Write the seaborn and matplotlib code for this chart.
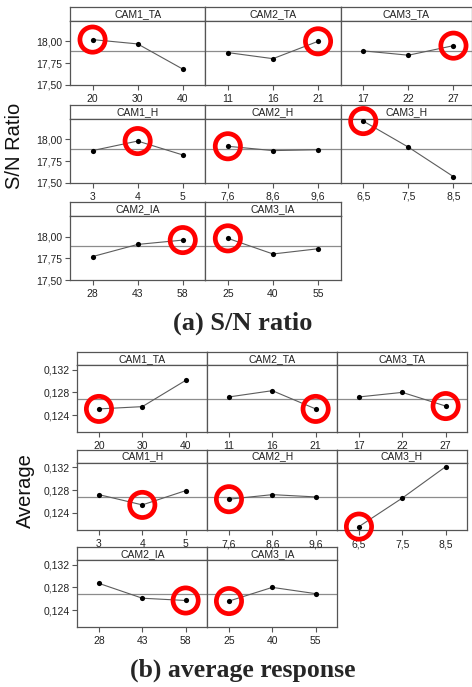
import numpy as np
import pandas as pd
import seaborn as sns
import matplotlib
matplotlib.use('Agg')
import matplotlib.pyplot as plt
from matplotlib.ticker import FuncFormatter

# Data
factors = ['CAM1_TA', 'CAM2_TA', 'CAM3_TA',
           'CAM1_H', 'CAM2_H', 'CAM3_H',
           'CAM2_IA', 'CAM3_IA']
levels = [['20', '30', '40'], ['11', '16', '21'], ['17', '22', '27'],
          ['3', '4', '5'], ['7,6', '8,6', '9,6'], ['6,5', '7,5', '8,5'],
          ['28', '43', '58'], ['25', '40', '55']]

sn_ratio = [[18.02, 17.97, 17.68], [17.87, 17.80, 18.00], [17.89, 17.84, 17.95],
            [17.87, 17.98, 17.82], [17.92, 17.87, 17.88], [18.21, 17.91, 17.57],
            [17.77, 17.91, 17.96], [17.98, 17.80, 17.86]]
average = [[0.1251, 0.1255, 0.1301], [0.1272, 0.1283, 0.1251], [0.1272, 0.1280, 0.1256],
           [0.1272, 0.1254, 0.1279], [0.1264, 0.1272, 0.1268], [0.1216, 0.1266, 0.1321],
           [0.1287, 0.1261, 0.1257], [0.1256, 0.1280, 0.1269]]

sn_ticks = [17.50, 17.75, 18.00]
avg_ticks = [0.124, 0.128, 0.132]

W, H = 472, 687
FRAME = '#555555'

sns.set_style('white')
plt.rcParams['font.family'] = ['Liberation Sans', 'DejaVu Sans']

fig = plt.figure(figsize=(W / 100, H / 100), dpi=100)


def box(x, y, w, h):
    # pixel box (top-left origin) -> figure fraction
    return [x / W, 1 - (y + h) / H, w / W, h / H]


def draw_block(values, row_tops, strip_h, plot_h, left, col_ws, ylim, ticks, fmt, pick):
    unit = col_ws[0] / 3
    grand = np.mean(values)
    for k, name in enumerate(factors):
        r, c = divmod(k, 3)
        x0 = left + sum(col_ws[:c])
        w = col_ws[c]
        top = row_tops[r]

        # strip header
        sax = fig.add_axes(box(x0, top, w, strip_h))
        sax.set_xticks([])
        sax.set_yticks([])
        sax.text(0.5, 0.5, name, ha='center', va='center', fontsize=7.5, color='#222222')
        for s in sax.spines.values():
            s.set_color(FRAME)
            s.set_linewidth(0.9)
        sax.set_zorder(1)

        # panel
        ax = fig.add_axes(box(x0, top + strip_h, w, plot_h))
        ax.set_zorder(2)
        pos = np.arange(len(levels[k]))
        vals = values[k]
        ax.axhline(grand, color='#8c8c8c', lw=0.9, zorder=1)
        sns.lineplot(x=pos, y=vals, ax=ax, color='#5c5c5c', linewidth=0.8, zorder=2)
        sns.scatterplot(x=pos, y=vals, ax=ax, color='black', s=14, linewidth=0, zorder=3)
        best = pick(vals)
        ax.scatter([pos[best]], [vals[best]], s=330, facecolors='none',
                   edgecolors='#ff0000', linewidths=3.4, clip_on=False, zorder=10)

        ax.set_xlim(-0.5, -0.5 + w / unit)
        ax.set_ylim(*ylim)
        ax.set_xticks(pos)
        ax.set_xticklabels(levels[k])
        if c == 0:
            ax.set_yticks(ticks)
            ax.yaxis.set_major_formatter(FuncFormatter(fmt))
        else:
            ax.set_yticks([])
        ax.set_xlabel('')
        ax.set_ylabel('')
        ax.tick_params(axis='both', direction='out', length=3.5, width=0.8, color=FRAME,
                       labelsize=7.5, labelcolor='#222222', pad=2)
        ax.tick_params(axis='x', pad=3)
        ax.tick_params(left=(c == 0), bottom=True)
        for s in ax.spines.values():
            s.set_color(FRAME)
            s.set_linewidth(0.9)


# (a) S/N ratio
draw_block(sn_ratio, [7, 105, 202.3], 13.5, 64.2, 70, [135.3, 135.4, 131.0],
           (17.5, 18.24), sn_ticks, lambda v, p: f'{v:.2f}'.replace('.', ','), np.argmax)

# (b) average response
draw_block(average, [352.3, 450, 547.3], 12.7, 67.3, 77.3, [130, 130, 129.4],
           (0.121, 0.1328), avg_ticks, lambda v, p: f'{v:.3f}'.replace('.', ','), np.argmin)

fig.text(15 / W, 1 - 146 / H, 'S/N Ratio', rotation=90, ha='center', va='center',
         fontsize=14.5, color='#111111')
fig.text(25 / W, 1 - 491 / H, 'Average', rotation=90, ha='center', va='center',
         fontsize=14.5, color='#111111')

fig.text(243 / W, 1 - 323 / H, '(a) S/N ratio', ha='center', va='center',
         fontsize=19, fontweight='bold', family=['Liberation Serif', 'DejaVu Serif'])
fig.text(243 / W, 1 - 670 / H, '(b) average response', ha='center', va='center',
         fontsize=18.5, fontweight='bold', family=['Liberation Serif', 'DejaVu Serif'])

fig.savefig('out.png', dpi=100)
